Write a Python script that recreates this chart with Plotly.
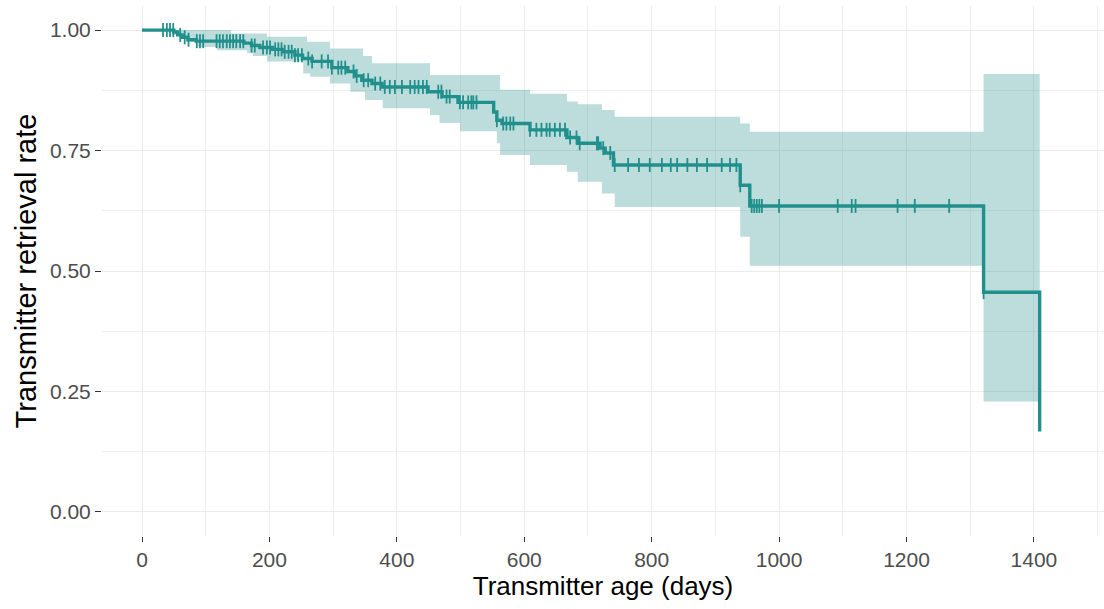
import plotly.graph_objects as go
import numpy as np

# Kaplan-Meier step curve (event times in days, survival after event)
km_time = [0, 50, 56, 63, 72, 85, 160, 172, 185, 205, 222, 240, 252, 267, 298, 323, 335, 345,
           361, 377, 449, 471, 496, 552, 557, 565, 609, 667, 684, 719, 727, 740, 939, 954, 1321, 1409]
km_surv = [1.0, 0.996, 0.99, 0.985, 0.98, 0.977, 0.973, 0.968, 0.964, 0.96, 0.955, 0.948, 0.941,
           0.935, 0.922, 0.914, 0.905, 0.896, 0.889, 0.882, 0.872, 0.862, 0.85, 0.83, 0.813, 0.806,
           0.793, 0.777, 0.765, 0.755, 0.745, 0.72, 0.678, 0.635, 0.456, 0.167]

# Confidence band (lower)
lo_time = [0, 50, 60, 75, 88, 118, 165, 174, 196, 253, 264, 295, 327, 350, 378, 452, 467, 499,
           557, 562, 609, 667, 684, 722, 742, 939, 954, 1321, 1409]
lo_val = [1.0, 0.99, 0.982, 0.976, 0.965, 0.958, 0.952, 0.946, 0.935, 0.91, 0.903, 0.889, 0.872,
          0.855, 0.838, 0.824, 0.807, 0.79, 0.765, 0.741, 0.72, 0.706, 0.685, 0.661, 0.633, 0.571,
          0.511, 0.229, 0.229]

# Confidence band (upper)
hi_time = [0, 140, 196, 259, 295, 347, 361, 452, 562, 609, 667, 684, 722, 742, 939, 954, 1321, 1409]
hi_val = [1.0, 0.993, 0.986, 0.976, 0.962, 0.946, 0.931, 0.907, 0.876, 0.868, 0.852, 0.846, 0.834,
          0.82, 0.806, 0.789, 0.909, 0.909]

# Censored observations (days)
censor_time = [33, 39, 44, 49, 60, 67, 73, 86, 91, 96, 117, 122, 127, 133, 138, 143, 148, 154, 159,
               172, 177, 190, 196, 201, 209, 214, 219, 224, 230, 235, 240, 245, 251, 261, 267, 282,
               292, 298, 308, 313, 319, 332, 337, 348, 355, 366, 374, 381, 389, 397, 408, 421, 428,
               434, 441, 447, 465, 470, 478, 483, 499, 504, 512, 517, 520, 525, 557, 567, 572, 578,
               583, 609, 619, 627, 635, 640, 648, 656, 664, 672, 682, 687, 714, 716, 724, 735, 742,
               763, 780, 797, 816, 830, 840, 856, 871, 887, 910, 923, 933, 939, 957, 961, 965, 969,
               973, 1000, 1092, 1114, 1120, 1186, 1213, 1267, 1321]

x_ticks = [0, 200, 400, 600, 800, 1000, 1200, 1400]
x_minor = [100, 300, 500, 700, 900, 1100, 1300, 1500]
y_ticks = [0, 0.25, 0.5, 0.75, 1.0]
y_ticktext = ["0.00", "0.25", "0.50", "0.75", "1.00"]
y_minor = [0.125, 0.375, 0.625, 0.875]

TEAL = "#21908C"


def step_value(t):
    idx = np.searchsorted(np.array(km_time), t, side="right") - 1
    return km_surv[max(idx, 0)]


censor_surv = [step_value(t) for t in censor_time]

fig = go.Figure()
fig.add_trace(go.Scatter(x=lo_time, y=lo_val, mode="lines", line=dict(width=0, shape="hv"),
                         hoverinfo="skip"))
fig.add_trace(go.Scatter(x=hi_time, y=hi_val, mode="lines", line=dict(width=0, shape="hv"),
                         fill="tonexty", fillcolor="rgba(33,144,140,0.3)", hoverinfo="skip"))
fig.add_trace(go.Scatter(x=km_time, y=km_surv, mode="lines",
                         line=dict(color=TEAL, width=3.4, shape="hv")))
fig.add_trace(go.Scatter(x=censor_time, y=censor_surv, mode="markers",
                         marker=dict(symbol="line-ns", size=10, color=TEAL,
                                     line=dict(color=TEAL, width=1.8))))

font_fam = "Liberation Sans, Arial, sans-serif"
fig.update_layout(
    width=1104, height=609,
    margin=dict(l=102, r=0, t=6, b=73),
    plot_bgcolor="white", paper_bgcolor="white",
    showlegend=False,
    font=dict(family=font_fam),
    xaxis=dict(
        range=[-62.8, 1510], tickvals=x_ticks, ticks="outside", ticklen=5, tickwidth=1.3,
        tickcolor="#333333", tickfont=dict(size=21, color="#4d4d4d", family=font_fam),
        showgrid=True, gridcolor="#ebebeb", gridwidth=1.3, zeroline=False, showline=False,
        minor=dict(tickvals=x_minor, showgrid=True, gridcolor="#efefef", gridwidth=0.7, ticks=""),
        title=dict(text="Transmitter age (days)", font=dict(size=26, color="black", family=font_fam),
                   standoff=6),
        automargin=False,
    ),
    yaxis=dict(
        range=[-0.05, 1.05], tickvals=y_ticks, ticktext=y_ticktext, ticks="outside", ticklen=6,
        tickwidth=1.3, tickcolor="#333333", tickfont=dict(size=21, color="#4d4d4d", family=font_fam),
        showgrid=True, gridcolor="#ebebeb", gridwidth=1.3, zeroline=False, showline=False,
        minor=dict(tickvals=y_minor, showgrid=True, gridcolor="#efefef", gridwidth=0.7, ticks=""),
        title=dict(text="Transmitter retrieval rate", font=dict(size=29, color="black", family=font_fam),
                   standoff=4),
        automargin=False,
    ),
)

fig.write_html("out.html")
